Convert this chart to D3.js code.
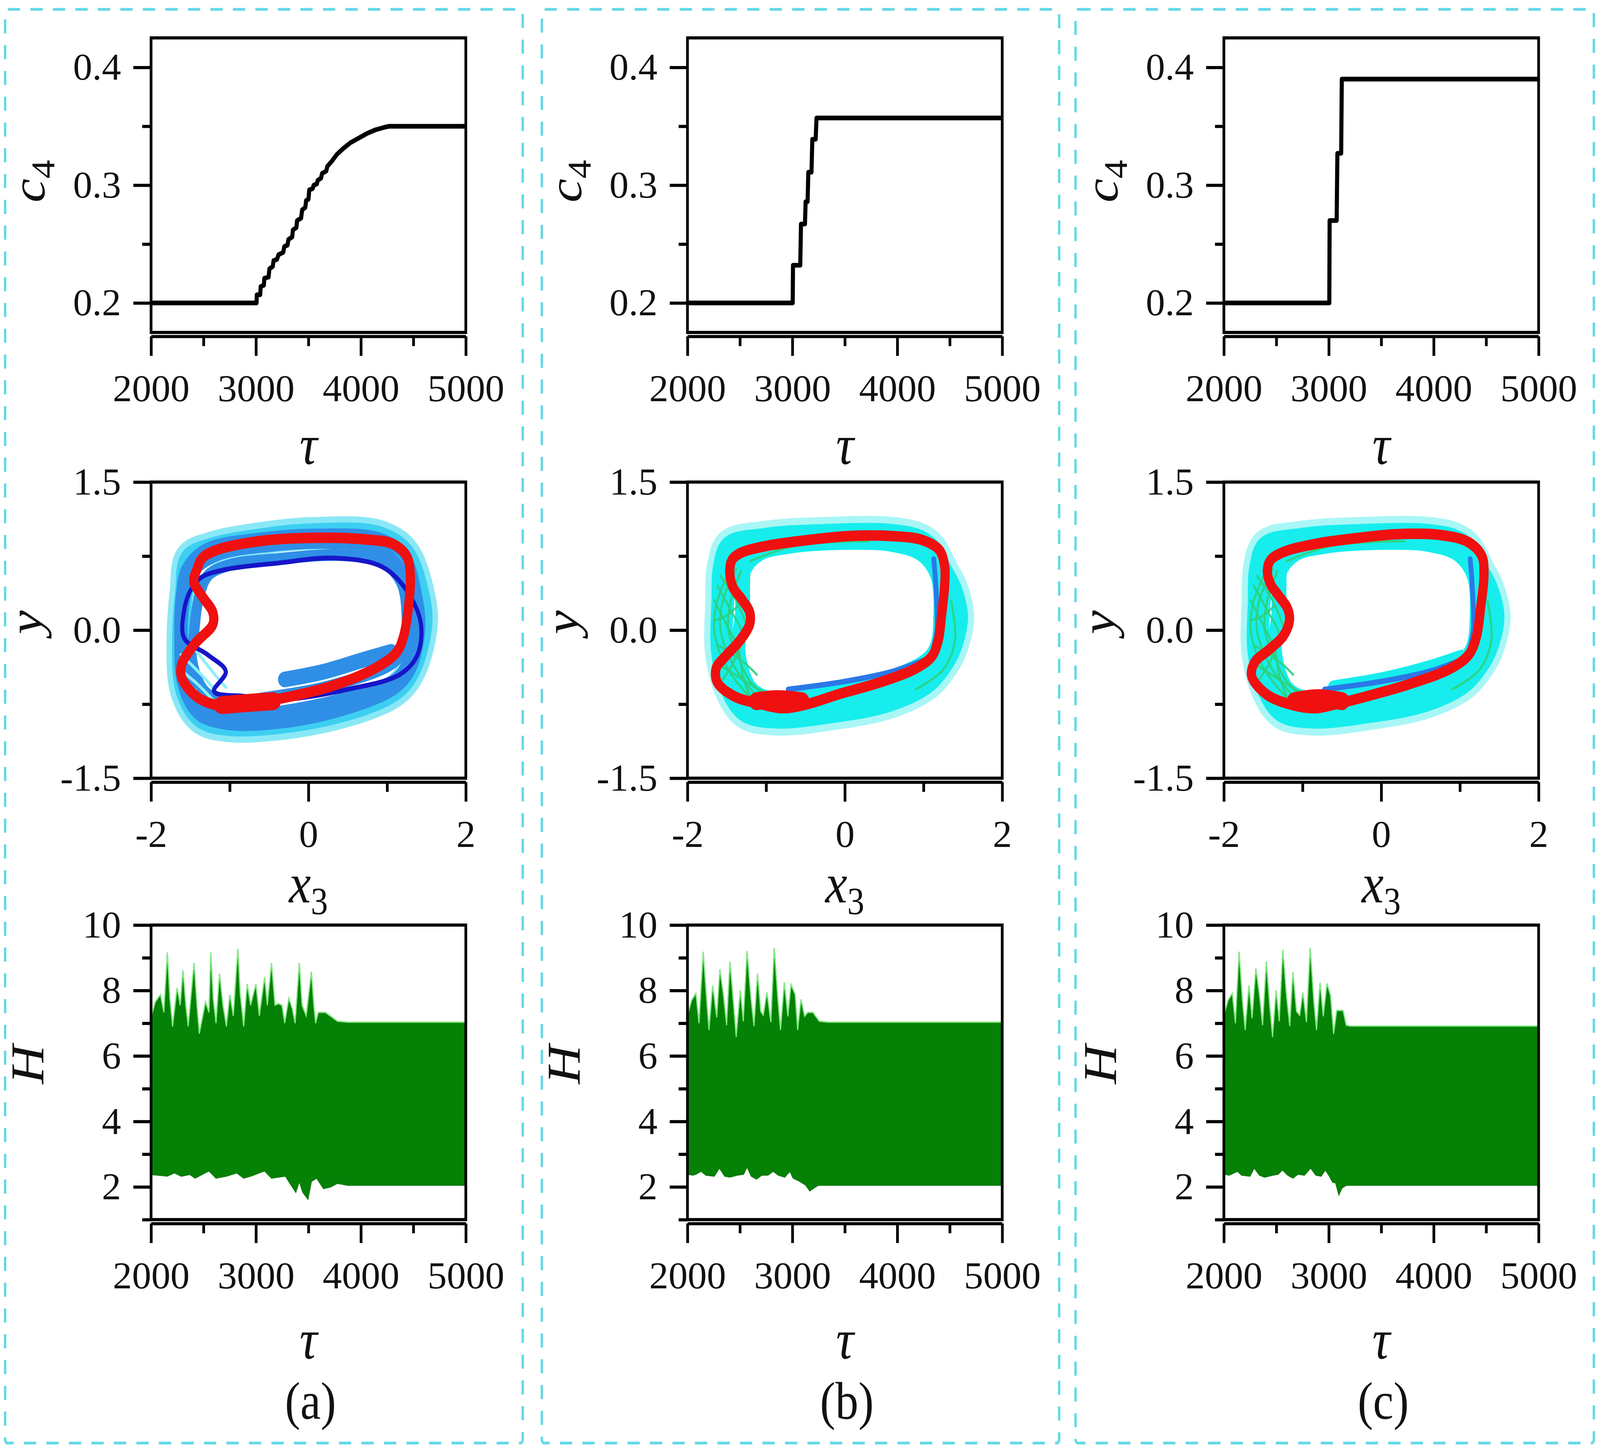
<!DOCTYPE html>
<html>
<head>
<meta charset="utf-8">
<script src="https://cdn.jsdelivr.net/npm/d3@7"></script>
<style>
html, body { margin: 0; padding: 0; width: 100%; height: 100%; overflow: hidden; background: #fff; }
#chart { width: 100vw; height: 100vh; }
#chart svg { width: 100%; height: 100%; display: block; }
</style>
</head>
<body>
<div id="chart"></div>
<script>
const width = 4692;
const height = 3722;

// ---- c4(tau), top row ----
const c4A = [[2000,0.2],[3005,0.2],[3008,0.207],[3040,0.207],[3045,0.214],[3075,0.215],[3080,0.221],[3120,0.222],[3128,0.229],[3160,0.231],[3168,0.236],[3200,0.237],[3215,0.241],[3260,0.243],[3270,0.248],[3300,0.249],[3310,0.254],[3345,0.256],[3352,0.262],[3385,0.264],[3392,0.27],[3430,0.272],[3440,0.279],[3470,0.281],[3478,0.287],[3500,0.288],[3508,0.296],[3540,0.297],[3550,0.3],[3580,0.301],[3588,0.304],[3620,0.306],[3630,0.31],[3670,0.312],[3680,0.316],[3720,0.32],[3770,0.326],[3830,0.331],[3900,0.336],[3980,0.34],[4060,0.344],[4140,0.347],[4220,0.349],[4270,0.35],[5000,0.35]];
const c4B = [[2000,0.2],[3003,0.2],[3006,0.232],[3075,0.232],[3082,0.267],[3120,0.267],[3126,0.286],[3145,0.286],[3152,0.311],[3182,0.311],[3190,0.339],[3222,0.339],[3230,0.357],[5000,0.357]];
const c4C = [[2000,0.2],[3005,0.2],[3008,0.27],[3075,0.27],[3082,0.327],[3118,0.327],[3124,0.39],[5000,0.39]];

// ---- (x3, y) phase portraits, middle row ----
const redA = [[-1.414,0.621],[-1.348,0.731],[-1.172,0.81],[-0.6,0.904],[0.06,0.935],[0.72,0.919],[1.075,0.872],[1.25,0.747],[1.295,0.558],[1.273,0.245],[1.207,-0.069],[1.119,-0.226],[0.855,-0.383],[0.282,-0.571],[-0.379,-0.697],[-0.819,-0.759],[-1.172,-0.759],[-1.436,-0.665],[-1.612,-0.477],[-1.612,-0.351],[-1.436,-0.132],[-1.216,0.056],[-1.216,0.182],[-1.348,0.339],[-1.458,0.496]];
const redB = [[-1.462,0.588],[-1.435,0.709],[-1.329,0.78],[-1.009,0.851],[-0.477,0.912],[0.056,0.953],[0.589,0.953],[0.988,0.912],[1.201,0.811],[1.268,0.649],[1.268,0.446],[1.228,0.142],[1.188,-0.101],[1.108,-0.264],[0.908,-0.385],[0.455,-0.527],[-0.077,-0.649],[-0.477,-0.75],[-0.796,-0.791],[-1.063,-0.75],[-1.409,-0.669],[-1.622,-0.527],[-1.635,-0.385],[-1.515,-0.264],[-1.329,-0.101],[-1.209,0.061],[-1.209,0.182],[-1.302,0.304],[-1.422,0.436]];
const redC = [[-1.447,0.608],[-1.407,0.709],[-1.246,0.79],[-0.846,0.872],[-0.311,0.932],[0.223,0.973],[0.758,0.963],[1.105,0.892],[1.279,0.75],[1.305,0.547],[1.265,0.243],[1.212,-0.061],[1.118,-0.243],[0.891,-0.385],[0.357,-0.547],[-0.178,-0.669],[-0.578,-0.75],[-0.846,-0.791],[-1.166,-0.75],[-1.46,-0.649],[-1.647,-0.466],[-1.607,-0.324],[-1.433,-0.203],[-1.246,-0.061],[-1.166,0.101],[-1.193,0.223],[-1.3,0.345],[-1.407,0.466]];
const redBlobA = [[-1.1,-0.76],[-0.8,-0.74],[-0.45,-0.72]];
const redBlobB = [[-1.12,-0.72],[-0.85,-0.7],[-0.55,-0.72]];
const redBlobC = [[-1.1,-0.72],[-0.8,-0.69],[-0.5,-0.72]];

const glowA = [[-1.52,0.72],[-1.24,0.83],[-0.5,0.94],[0.06,0.98],[0.9,0.95],[1.24,0.77],[1.44,0.3],[1.46,0.05],[1.33,-0.37],[1.12,-0.6],[0.28,-0.86],[-1.0,-0.97],[-1.38,-0.88],[-1.58,-0.6],[-1.62,-0.07],[-1.58,0.4]];
const blueA1 = [[-1.55,0.62],[-1.3,0.82],[-0.6,0.93],[0.1,0.97],[0.9,0.93],[1.22,0.76],[1.38,0.35],[1.42,0.0],[1.3,-0.4],[1.08,-0.6],[0.3,-0.84],[-0.5,-0.95],[-1.05,-0.95],[-1.4,-0.85],[-1.6,-0.55],[-1.64,-0.05],[-1.62,0.35]];
const blueA2 = [[-1.45,0.6],[-1.15,0.76],[-0.5,0.85],[0.3,0.88],[0.9,0.82],[1.2,0.58],[1.32,0.2],[1.3,-0.2],[1.14,-0.47],[0.4,-0.7],[-0.4,-0.83],[-1.0,-0.88],[-1.38,-0.78],[-1.56,-0.42],[-1.6,0.0],[-1.56,0.35]];
const blueA3 = [[-1.28,0.55],[-1.0,0.66],[-0.4,0.72],[0.4,0.76],[0.92,0.7],[1.18,0.48],[1.25,0.1],[1.22,-0.18],[1.06,-0.34],[0.3,-0.56],[-0.5,-0.68],[-1.02,-0.72],[-1.32,-0.62],[-1.48,-0.3],[-1.45,0.0],[-1.4,0.3]];
const blueStubA = [[-0.3,-0.5],[0.2,-0.42],[0.7,-0.3],[1.05,-0.22]];
const stripesA = [
  [[-1.62,-0.25],[-1.45,-0.38],[-1.25,-0.55],[-1.1,-0.7]],
  [[-1.6,-0.42],[-1.42,-0.54],[-1.27,-0.66],[-1.15,-0.76]],
  [[-1.58,-0.08],[-1.4,-0.24],[-1.22,-0.42],[-1.05,-0.58]]
];
const darkBlueA = [[-1.37,0.53],[-1.08,0.61],[-0.38,0.68],[0.33,0.73],[0.94,0.64],[1.25,0.4],[1.43,0.06],[1.38,-0.26],[1.16,-0.45],[0.5,-0.6],[-0.29,-0.7],[-0.82,-0.67],[-1.2,-0.62],[-1.05,-0.42],[-1.28,-0.25],[-1.58,-0.08],[-1.58,0.2],[-1.5,0.4]];

const cyanB1 = [[-1.58,0.64],[-1.48,0.86],[-1.0,0.95],[-0.2,0.99],[0.58,0.99],[0.95,0.93],[1.12,0.83],[1.26,0.62],[1.39,0.42],[1.47,0.14],[1.4,-0.15],[1.3,-0.32],[1.06,-0.55],[0.57,-0.74],[-0.2,-0.86],[-0.86,-0.91],[-1.26,-0.85],[-1.45,-0.66],[-1.6,-0.25],[-1.6,0.3]];
const cyanB2 = [[-1.46,0.62],[-1.3,0.82],[-0.88,0.9],[-0.1,0.94],[0.6,0.93],[0.98,0.86],[1.15,0.7],[1.25,0.5],[1.32,0.14],[1.28,-0.15],[1.18,-0.33],[0.95,-0.52],[0.45,-0.67],[-0.25,-0.78],[-0.86,-0.82],[-1.22,-0.75],[-1.43,-0.58],[-1.52,-0.25],[-1.5,0.3]];
const cyanB3 = [[-1.28,0.62],[-1.1,0.78],[-0.72,0.86],[0.06,0.9],[0.6,0.88],[0.98,0.78],[1.18,0.56],[1.22,0.14],[1.17,-0.18],[1.02,-0.33],[0.35,-0.55],[-0.45,-0.68],[-0.98,-0.7],[-1.22,-0.58],[-1.36,-0.2],[-1.3,0.15],[-1.3,0.45]];
const cyanStubC = [[-0.6,-0.58],[0.0,-0.5],[0.6,-0.38],[1.02,-0.27]];
const blueSegB = [
  [[1.13,0.72],[1.16,0.4],[1.17,0.0],[1.12,-0.2]],
  [[-0.72,-0.6],[0.0,-0.52],[0.6,-0.42],[1.02,-0.3]]
];
const meshB = [
  [[-1.45,0.62],[-1.62,0.3],[-1.66,0.0],[-1.55,-0.3],[-1.35,-0.55],[-1.15,-0.72]],
  [[-1.38,0.62],[-1.55,0.3],[-1.58,0.0],[-1.45,-0.3],[-1.28,-0.52],[-1.08,-0.7]],
  [[-1.32,0.6],[-1.45,0.3],[-1.48,0.0],[-1.35,-0.28],[-1.22,-0.5],[-1.0,-0.68]],
  [[-1.62,0.45],[-1.45,0.2],[-1.3,-0.05],[-1.4,-0.3],[-1.55,-0.5]],
  [[-1.66,0.3],[-1.5,0.05],[-1.35,-0.2],[-1.3,-0.45],[-1.2,-0.68]],
  [[-1.58,0.55],[-1.38,0.3],[-1.25,0.05]],
  [[-1.6,-0.35],[-1.4,-0.45],[-1.2,-0.55],[-1.05,-0.62]],
  [[-1.62,-0.15],[-1.42,-0.25],[-1.25,-0.35],[-1.12,-0.45]],
  [[-1.65,0.1],[-1.5,0.15],[-1.35,0.25]],
  [[-1.2,0.7],[-0.6,0.86],[0.3,0.9]],
  [[1.35,0.3],[1.4,-0.1],[1.25,-0.4],[0.9,-0.6]]
];

// ---- H(tau), bottom row: upper / lower envelopes ----
const upperA = [[2000,7.17],[2040,7.65],[2089,7.87],[2122,7.33],[2155,9.16],[2179,7.76],[2205,6.9],[2248,8.08],[2278,7.55],[2304,8.62],[2331,7.55],[2354,6.9],[2410,8.84],[2437,7.55],[2460,6.68],[2519,7.65],[2552,7.33],[2569,9.16],[2592,7.76],[2619,7.0],[2652,8.51],[2685,7.55],[2718,6.9],[2751,7.87],[2784,7.22],[2827,9.27],[2850,7.87],[2883,6.9],[2916,8.19],[2949,7.55],[2999,8.19],[3032,7.22],[3082,8.41],[3108,7.55],[3148,8.84],[3181,7.55],[3214,7.6],[3247,7.55],[3274,7.0],[3313,7.76],[3346,7.44],[3373,7.0],[3413,8.84],[3439,7.55],[3479,7.22],[3528,8.57],[3551,7.55],[3568,7.0],[3594,7.33],[3661,7.33],[3710,7.22],[3776,7.06],[3876,7.03],[5000,7.03]];
const lowerA = [[2000,2.38],[2155,2.33],[2222,2.43],[2288,2.33],[2370,2.38],[2420,2.27],[2552,2.49],[2619,2.27],[2718,2.33],[2817,2.43],[2883,2.27],[2949,2.33],[3082,2.49],[3148,2.27],[3280,2.33],[3379,1.84],[3413,2.17],[3446,1.84],[3495,1.63],[3528,2.17],[3578,2.27],[3644,1.95],[3710,2.0],[3776,2.11],[3876,2.05],[5000,2.05]];
const upperB = [[2000,7.24],[2040,7.7],[2080,7.91],[2110,7.0],[2150,9.18],[2185,7.61],[2205,6.79],[2240,8.15],[2279,7.18],[2309,8.64],[2343,7.85],[2373,6.94],[2405,8.88],[2442,7.48],[2464,6.58],[2504,8.0],[2532,7.06],[2568,9.21],[2604,7.79],[2634,6.91],[2668,8.52],[2698,7.36],[2723,7.24],[2757,7.94],[2795,7.03],[2827,9.3],[2863,7.67],[2887,6.79],[2923,8.24],[2957,7.21],[2987,8.18],[3026,7.88],[3050,6.79],[3082,7.73],[3116,7.21],[3146,7.33],[3196,7.33],[3256,7.06],[3345,7.03],[5000,7.03]];
const lowerB = [[2000,2.39],[2050,2.36],[2080,2.39],[2130,2.48],[2175,2.36],[2255,2.33],[2305,2.58],[2355,2.33],[2405,2.3],[2475,2.36],[2535,2.39],[2568,2.61],[2608,2.33],[2658,2.24],[2708,2.36],[2767,2.36],[2817,2.48],[2867,2.36],[2927,2.3],[2977,2.48],[3007,2.27],[3066,2.18],[3126,2.06],[3166,1.88],[3206,1.97],[3246,2.05],[5000,2.05]];
const upperC = [[2000,7.24],[2040,7.7],[2080,7.91],[2110,7.0],[2145,9.18],[2179,7.61],[2203,6.79],[2239,8.15],[2269,7.15],[2305,8.67],[2339,7.85],[2369,6.94],[2405,8.88],[2438,7.48],[2464,6.58],[2498,8.0],[2528,7.06],[2562,9.24],[2598,7.79],[2628,6.91],[2658,8.55],[2692,7.36],[2723,7.24],[2753,7.94],[2787,7.03],[2823,9.3],[2857,7.67],[2883,6.79],[2917,8.24],[2947,7.21],[2983,8.21],[3016,7.85],[3046,6.67],[3076,7.39],[3136,7.39],[3166,6.94],[3206,6.91],[5000,6.91]];
const lowerC = [[2000,2.39],[2050,2.36],[2130,2.48],[2169,2.36],[2249,2.33],[2289,2.58],[2339,2.36],[2389,2.3],[2468,2.36],[2518,2.39],[2558,2.52],[2608,2.36],[2658,2.27],[2707,2.39],[2767,2.36],[2827,2.58],[2877,2.36],[2927,2.33],[2967,2.52],[3006,2.33],[3036,2.15],[3066,2.12],[3096,1.76],[3126,1.97],[3166,2.05],[5000,2.05]];

// ---- ticks and labels ----
const tauTicks = [2000, 3000, 4000, 5000];
const tauMinor = [2500, 3500, 4500];
const c4Ticks = [0.2, 0.3, 0.4];
const c4Minor = [0.25, 0.35];
const x3Ticks = [-2, 0, 2];
const x3Minor = [-1, 1];
const yTicks = [-1.5, 0, 1.5];
const yMinor = [-0.75, 0.75];
const hTicks = [2, 4, 6, 8, 10];
const hMinor = [1, 3, 5, 7, 9];
const panelNames = ['(a)', '(b)', '(c)'];

const colLeft = [443, 2016, 3589];
const plotW = 923;
const rowTop = { c4: [97, 851], ph: [1234, 1992], h: [2368, 3122] };
const boxes = [[15, 1533], [1589, 3106], [3154, 4674]];
const serif = "'Liberation Serif', 'Times New Roman', serif";

// fill the whole window whatever its shape
const svg = d3.select('#chart').append('svg')
  .attr('viewBox', [0, 0, width, height])
  .attr('preserveAspectRatio', 'none');
svg.append('rect').attr('width', width).attr('height', height).attr('fill', '#fff');

// dashed panel boxes
svg.selectAll('rect.box').data(boxes).join('rect')
  .attr('class', 'box')
  .attr('x', d => d[0]).attr('y', 24)
  .attr('width', d => d[1] - d[0]).attr('height', 3670)
  .attr('rx', 8)
  .attr('fill', 'none').attr('stroke', '#62d9e6').attr('stroke-width', 7)
  .attr('stroke-dasharray', '36,30');

const fmt1 = d => d.toFixed(1);
const fmt0 = d => String(d);

function stretchLeft(g, off) {
  g.selectAll('text').each(function () {
    d3.select(this).attr('x', 0).attr('transform', `translate(${-off},0) scale(1.15,1)`);
  });
}

function axes(g, x, y, top, bottom, left, o) {
  const frame = g.append('g');
  // y axis, major + minor ticks outward
  const ya = g.append('g').attr('transform', `translate(${left},0)`)
    .call(d3.axisLeft(y).tickValues(o.yMajor).tickSize(52).tickPadding(36).tickFormat(o.yFmt));
  ya.select('.domain').remove();
  stretchLeft(ya, 88);
  const ym = g.append('g').attr('transform', `translate(${left},0)`)
    .call(d3.axisLeft(y).tickValues(o.yMinorV).tickSize(26).tickFormat(''));
  ym.select('.domain').remove();
  // x axis line sits just under the frame
  const xa = g.append('g').attr('transform', `translate(0,${bottom + 10})`)
    .call(d3.axisBottom(x).tickValues(o.xMajor).tickSize(50).tickSizeOuter(0).tickPadding(46).tickFormat(o.xFmt));
  xa.selectAll('text').attr('transform', 'scale(1.15,1)');
  const xm = g.append('g').attr('transform', `translate(0,${bottom + 10})`)
    .call(d3.axisBottom(x).tickValues(o.xMinorV).tickSize(25).tickSizeOuter(0).tickFormat(''));
  xm.select('.domain').remove();
  g.selectAll('.tick line, .domain').attr('stroke', '#000').attr('stroke-width', 8);
  g.selectAll('.tick text').attr('font-family', serif).attr('font-size', 98).attr('fill', '#111');
  frame.append('rect')
    .attr('x', left).attr('y', top).attr('width', plotW).attr('height', bottom - top)
    .attr('fill', 'none').attr('stroke', '#000').attr('stroke-width', 8);
  g.node().appendChild(frame.node());
}

function yTitle(g, left, cy, main, sub, bx) {
  const t = g.append('text')
    .attr('transform', `translate(${left - bx},${cy}) rotate(-90)`)
    .attr('text-anchor', 'middle')
    .attr('font-family', serif).attr('font-size', 138).attr('fill', '#111');
  t.append('tspan').attr('font-style', 'italic').text(main);
  if (sub) t.append('tspan').attr('font-size', 96).attr('dy', 28).text(sub);
}

function xTitle(g, cx, by, main, sub) {
  const t = g.append('text')
    .attr('x', cx).attr('y', by)
    .attr('text-anchor', 'middle')
    .attr('font-family', serif).attr('font-size', 145).attr('fill', '#111');
  t.append('tspan').attr('font-style', 'italic').text(main);
  if (sub) t.append('tspan').attr('font-size', 100).attr('dy', 30).text(sub);
}

const c4Data = [c4A, c4B, c4C];
const reds = [redA, redB, redC];
const redBlobs = [redBlobA, redBlobB, redBlobC];
const uppers = [upperA, upperB, upperC];
const lowers = [lowerA, lowerB, lowerC];

colLeft.forEach((left, i) => {
  const g = svg.append('g');
  const right = left + plotW;
  const cx = left + plotW / 2;

  // --- top: c4 vs tau
  {
    const [top, bottom] = rowTop.c4;
    const x = d3.scaleLinear().domain([2000, 5000]).range([left, right]);
    const y = d3.scaleLinear().domain([0.175, 0.425]).range([bottom, top]);
    g.append('path').datum(c4Data[i])
      .attr('fill', 'none').attr('stroke', '#000').attr('stroke-width', 12)
      .attr('stroke-linejoin', 'round')
      .attr('d', d3.line().x(d => x(d[0])).y(d => y(d[1])));
    axes(g, x, y, top, bottom, left, {
      yMajor: c4Ticks, yMinorV: c4Minor, yFmt: fmt1,
      xMajor: tauTicks, xMinorV: tauMinor, xFmt: fmt0
    });
    yTitle(g, left, (top + bottom) / 2 - 10, 'c', '4', 312);
    xTitle(g, cx, bottom + 337, 'τ');
  }

  // --- middle: phase portrait
  {
    const [top, bottom] = rowTop.ph;
    const x = d3.scaleLinear().domain([-2, 2]).range([left, right]);
    const y = d3.scaleLinear().domain([-1.5, 1.5]).range([bottom, top]);
    const closed = d3.line().x(d => x(d[0])).y(d => y(d[1])).curve(d3.curveCatmullRomClosed.alpha(0.5));
    const open = d3.line().x(d => x(d[0])).y(d => y(d[1])).curve(d3.curveCatmullRom.alpha(0.5));
    const stroke = (data, gen, color, w, op) => g.append('path').datum(data)
      .attr('fill', 'none').attr('stroke', color).attr('stroke-width', w)
      .attr('stroke-linejoin', 'round').attr('stroke-linecap', 'round')
      .attr('opacity', op || 1).attr('d', gen);

    if (i === 0) {
      stroke(glowA, closed, '#8ae8f6', 84);
      stroke(glowA, closed, '#3ccff2', 52);
      [blueA1, blueA2, blueA3].forEach(d => stroke(d, closed, '#2f8fe6', 30));
      stroke(blueStubA, open, '#2f8fe6', 40);
      stripesA.forEach(d => stroke(d, open, '#8ceef8', 8));
      stroke(darkBlueA, closed, '#1616c8', 12);
    } else {
      stroke(cyanB1, closed, '#a9f6f6', 80);
      [cyanB1, cyanB2, cyanB3].forEach(d => stroke(d, closed, '#17eded', 44));
      if (i === 2) stroke(cyanStubC, open, '#17eded', 36);
      meshB.forEach(d => stroke(d, open, '#2cd27c', 6, 0.9));
      blueSegB.forEach(d => stroke(d, open, '#2a78e8', 14));
    }
    stroke(reds[i], closed, '#f01010', 27);
    stroke(redBlobs[i], open, '#f01010', 46);

    axes(g, x, y, top, bottom, left, {
      yMajor: yTicks, yMinorV: yMinor, yFmt: fmt1,
      xMajor: x3Ticks, xMinorV: x3Minor, xFmt: fmt0
    });
    yTitle(g, left, (top + bottom) / 2 - 20, 'y', null, 322);
    xTitle(g, cx, bottom + 318, 'x', '3');
  }

  // --- bottom: H vs tau
  {
    const [top, bottom] = rowTop.h;
    const x = d3.scaleLinear().domain([2000, 5000]).range([left, right]);
    const y = d3.scaleLinear().domain([1, 10]).range([bottom, top]);
    const line = d3.line().x(d => x(d[0])).y(d => y(d[1]));
    const poly = uppers[i].concat(lowers[i].slice().reverse());
    g.append('path').datum(poly)
      .attr('fill', '#058205').attr('stroke', '#0a7a0a').attr('stroke-width', 3)
      .attr('d', d => line(d) + 'Z');
    g.append('path').datum(uppers[i])
      .attr('fill', 'none').attr('stroke', '#86ee86').attr('stroke-width', 3)
      .attr('d', line);
    axes(g, x, y, top, bottom, left, {
      yMajor: hTicks, yMinorV: hMinor, yFmt: fmt0,
      xMajor: tauTicks, xMinorV: tauMinor, xFmt: fmt0
    });
    yTitle(g, left, (top + bottom) / 2 - 20, 'H', null, 316);
    xTitle(g, cx, bottom + 356, 'τ');
    g.append('text').attr('x', cx + 6).attr('y', 3632)
      .attr('text-anchor', 'middle')
      .attr('font-family', serif).attr('font-size', 135).attr('fill', '#111')
      .text(panelNames[i]);
  }
});
</script>
</body>
</html>
